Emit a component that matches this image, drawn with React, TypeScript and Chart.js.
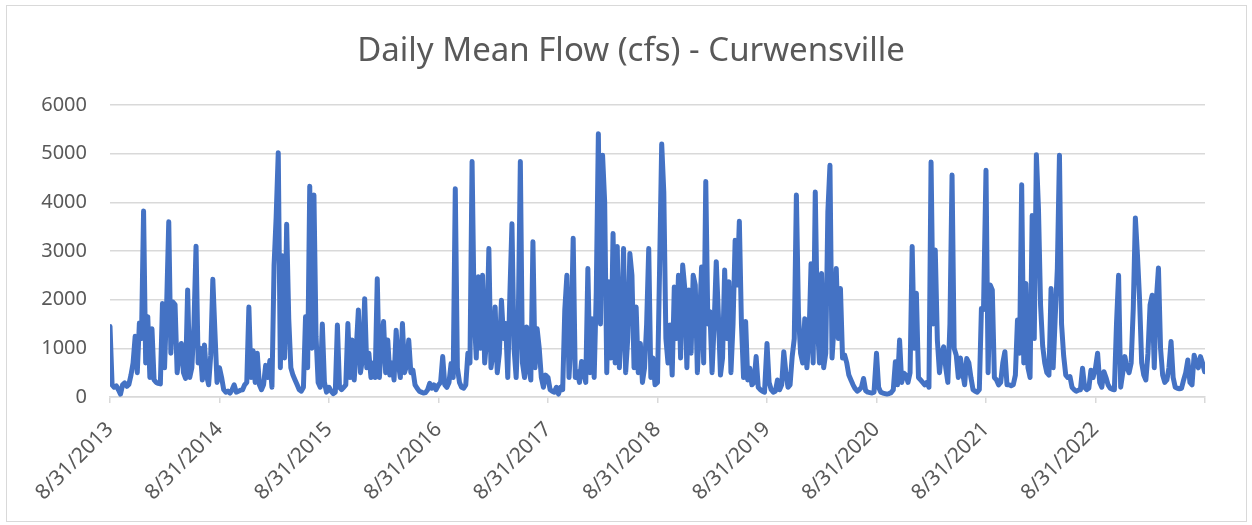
import React, { useEffect, useRef } from "react";
import { Chart, registerables } from "chart.js";

Chart.register(...registerables);

const chartTitle = "Daily Mean Flow (cfs) - Curwensville";
const tickDay = "8/31/";
const startYear = 2013;
const endYear = 2023;
const sampleDays = 7;
const yTickValues = [0, 1000, 2000, 3000, 4000, 5000, 6000];

// Flow values (cfs), one reading per week, starting 8/31 of each year
const flow2013 = [1450, 250, 200, 230, 150, 60, 250, 290, 220, 260, 450, 700, 1250, 500, 1520, 1200, 3820, 700, 1650, 400, 1400, 350, 300, 280, 270, 1920, 600, 1900, 3600, 900, 1950, 1900, 500, 930, 1100, 500, 380, 2200, 400, 600, 1480, 3100, 700, 1000, 350, 1070, 450, 250, 860, 2420, 1340, 300];
const flow2014 = [600, 400, 150, 100, 120, 80, 150, 250, 100, 120, 140, 150, 250, 300, 1850, 400, 950, 300, 900, 250, 150, 250, 650, 400, 750, 200, 2700, 3700, 5020, 600, 2900, 800, 3550, 1600, 600, 450, 350, 250, 150, 120, 200, 1650, 600, 4330, 1000, 4150, 1250, 300, 200, 1500, 300, 100];
const flow2015 = [200, 120, 70, 100, 1480, 200, 150, 200, 250, 1510, 400, 1170, 350, 1000, 1790, 500, 800, 2020, 600, 900, 400, 700, 400, 2430, 400, 1100, 1550, 500, 1170, 450, 700, 350, 1370, 700, 400, 1510, 500, 650, 1170, 500, 550, 250, 180, 120, 100, 80, 90, 150, 280, 180, 250, 150];
const flow2016 = [250, 300, 830, 250, 200, 300, 690, 400, 4280, 600, 300, 200, 180, 250, 900, 700, 4840, 1700, 800, 2470, 1000, 2500, 700, 1200, 3050, 600, 900, 1850, 500, 900, 1990, 1200, 1510, 400, 2090, 3560, 1000, 400, 1500, 4840, 700, 400, 1440, 600, 350, 3190, 600, 1400, 1000, 400, 200, 450];
const flow2017 = [400, 150, 120, 100, 200, 60, 200, 150, 1790, 2500, 400, 1200, 3260, 400, 520, 300, 730, 500, 300, 2640, 500, 1610, 400, 2160, 5410, 1500, 4970, 4010, 500, 2370, 800, 3360, 700, 3090, 600, 1410, 3050, 500, 1200, 2950, 2500, 600, 1850, 500, 1100, 300, 600, 1500, 3050, 400, 800, 250];
const flow2018 = [300, 2640, 5200, 4210, 1200, 700, 1480, 450, 2260, 1200, 2500, 800, 2710, 2230, 600, 2200, 900, 2500, 2300, 500, 1500, 2670, 700, 4430, 1500, 1750, 500, 1500, 2780, 1700, 450, 800, 2610, 1200, 2370, 500, 1500, 3220, 2300, 3610, 1500, 400, 1550, 350, 590, 250, 300, 830, 200, 150, 120, 100];
const flow2019 = [1100, 300, 150, 100, 120, 350, 150, 250, 930, 500, 200, 250, 830, 1200, 4150, 1700, 900, 700, 1610, 600, 1200, 2740, 700, 4210, 1500, 700, 2540, 600, 900, 3800, 4760, 800, 1500, 2640, 1200, 2230, 800, 860, 700, 450, 350, 250, 170, 120, 150, 200, 380, 130, 100, 90, 80, 100];
const flow2020 = [900, 200, 100, 80, 70, 60, 70, 90, 150, 725, 250, 1170, 300, 490, 450, 300, 500, 3090, 1000, 2130, 400, 350, 300, 250, 300, 200, 4830, 1500, 3020, 1170, 500, 900, 1030, 600, 300, 1510, 4560, 1000, 860, 400, 800, 500, 250, 790, 700, 400, 150, 120, 100, 150, 1820, 1800];
const flow2021 = [4660, 500, 2300, 2200, 400, 350, 250, 300, 700, 930, 250, 250, 230, 250, 450, 1580, 900, 4360, 700, 2330, 600, 400, 3730, 1200, 4980, 3870, 1890, 1050, 700, 500, 450, 2230, 600, 1650, 2640, 4970, 1500, 850, 450, 400, 420, 200, 150, 120, 140, 150, 590, 200, 150, 180, 550, 400];
const flow2022 = [600, 900, 300, 200, 520, 400, 250, 180, 160, 150, 1500, 2500, 200, 500, 830, 600, 500, 700, 1820, 3680, 2910, 2000, 700, 450, 350, 900, 1890, 2090, 600, 2000, 2650, 1000, 450, 300, 350, 600, 1140, 400, 200, 180, 170, 180, 350, 500, 760, 300, 250, 860, 700, 600, 830, 700, 520];

const yearlyFlows = [flow2013, flow2014, flow2015, flow2016, flow2017, flow2018, flow2019, flow2020, flow2021, flow2022];

export default function App() {
  const ref = useRef<HTMLCanvasElement | null>(null);

  useEffect(() => {
    if (!ref.current) return;
    const points: { x: number; y: number }[] = [];
    yearlyFlows.forEach((arr, yi) => {
      arr.forEach((v, i) => {
        points.push({ x: startYear + yi + (i * sampleDays) / 365.25, y: v });
      });
    });
    const font = "'Noto Sans', 'Open Sans', sans-serif";
    const chart = new Chart(ref.current, {
      type: "line",
      data: {
        datasets: [
          {
            label: "Flow",
            data: points,
            borderColor: "#4472C4",
            backgroundColor: "#4472C4",
            borderWidth: 5,
            pointRadius: 0,
            tension: 0,
            borderJoinStyle: "round",
            borderCapStyle: "round",
            fill: false,
          },
        ],
      },
      options: {
        responsive: false,
        animation: false,
        layout: { padding: { top: 0, left: 10, right: 0, bottom: 0 } },
        plugins: {
          legend: { display: false },
          tooltip: { enabled: false },
          title: {
            display: true,
            text: chartTitle,
            color: "#595959",
            font: { family: font, size: 33, weight: "normal" },
            padding: { top: 31.5, bottom: 33.9 },
          },
        },
        scales: {
          x: {
            type: "linear",
            min: startYear,
            max: endYear,
            afterFit: (s: any) => {
              s.height = 128;
            },
            afterBuildTicks: (s: any) => {
              const t = [];
              for (let y = startYear; y <= endYear; y++) t.push({ value: y });
              s.ticks = t;
            },
            ticks: {
              autoSkip: false,
              minRotation: 45,
              maxRotation: 45,
              color: "#595959",
              font: { family: font, size: 21 },
              padding: 14,
              callback: (v: any) => (Number(v) < endYear ? tickDay + v : ""),
            },
            grid: {
              drawOnChartArea: false,
              drawTicks: true,
              tickLength: 6,
              color: "#d9d9d9",
              lineWidth: 1.5,
            },
            border: { display: true, color: "#d9d9d9", width: 1.5 },
          },
          y: {
            min: 0,
            max: 6000,
            afterFit: (s: any) => {
              s.width = 100;
            },
            afterBuildTicks: (s: any) => {
              s.ticks = yTickValues.map((v) => ({ value: v }));
            },
            ticks: {
              color: "#595959",
              font: { family: font, size: 20 },
              padding: 23,
              callback: (v: any) => String(v),
            },
            grid: { color: "#d9d9d9", lineWidth: 1.5, drawTicks: false },
            border: { display: false },
          },
          yRight: {
            position: "right",
            display: true,
            min: 0,
            max: 6000,
            afterFit: (s: any) => {
              s.width = 47;
            },
            ticks: { display: false },
            grid: { display: false, drawOnChartArea: false },
            border: { display: false },
          },
        },
      },
    });
    return () => chart.destroy();
  }, []);

  return (
    <div style={{ position: "fixed", left: 0, top: 0, width: 1252, height: 525, background: "#ffffff" }}>
      <div
        style={{
          position: "absolute",
          left: 6,
          top: 5,
          width: 1241,
          height: 517,
          border: "1.5px solid #d9d9d9",
          boxSizing: "border-box",
        }}
      />
      <canvas ref={ref} width={1252} height={525} style={{ position: "absolute", left: 0, top: 0 }} />
    </div>
  );
}
